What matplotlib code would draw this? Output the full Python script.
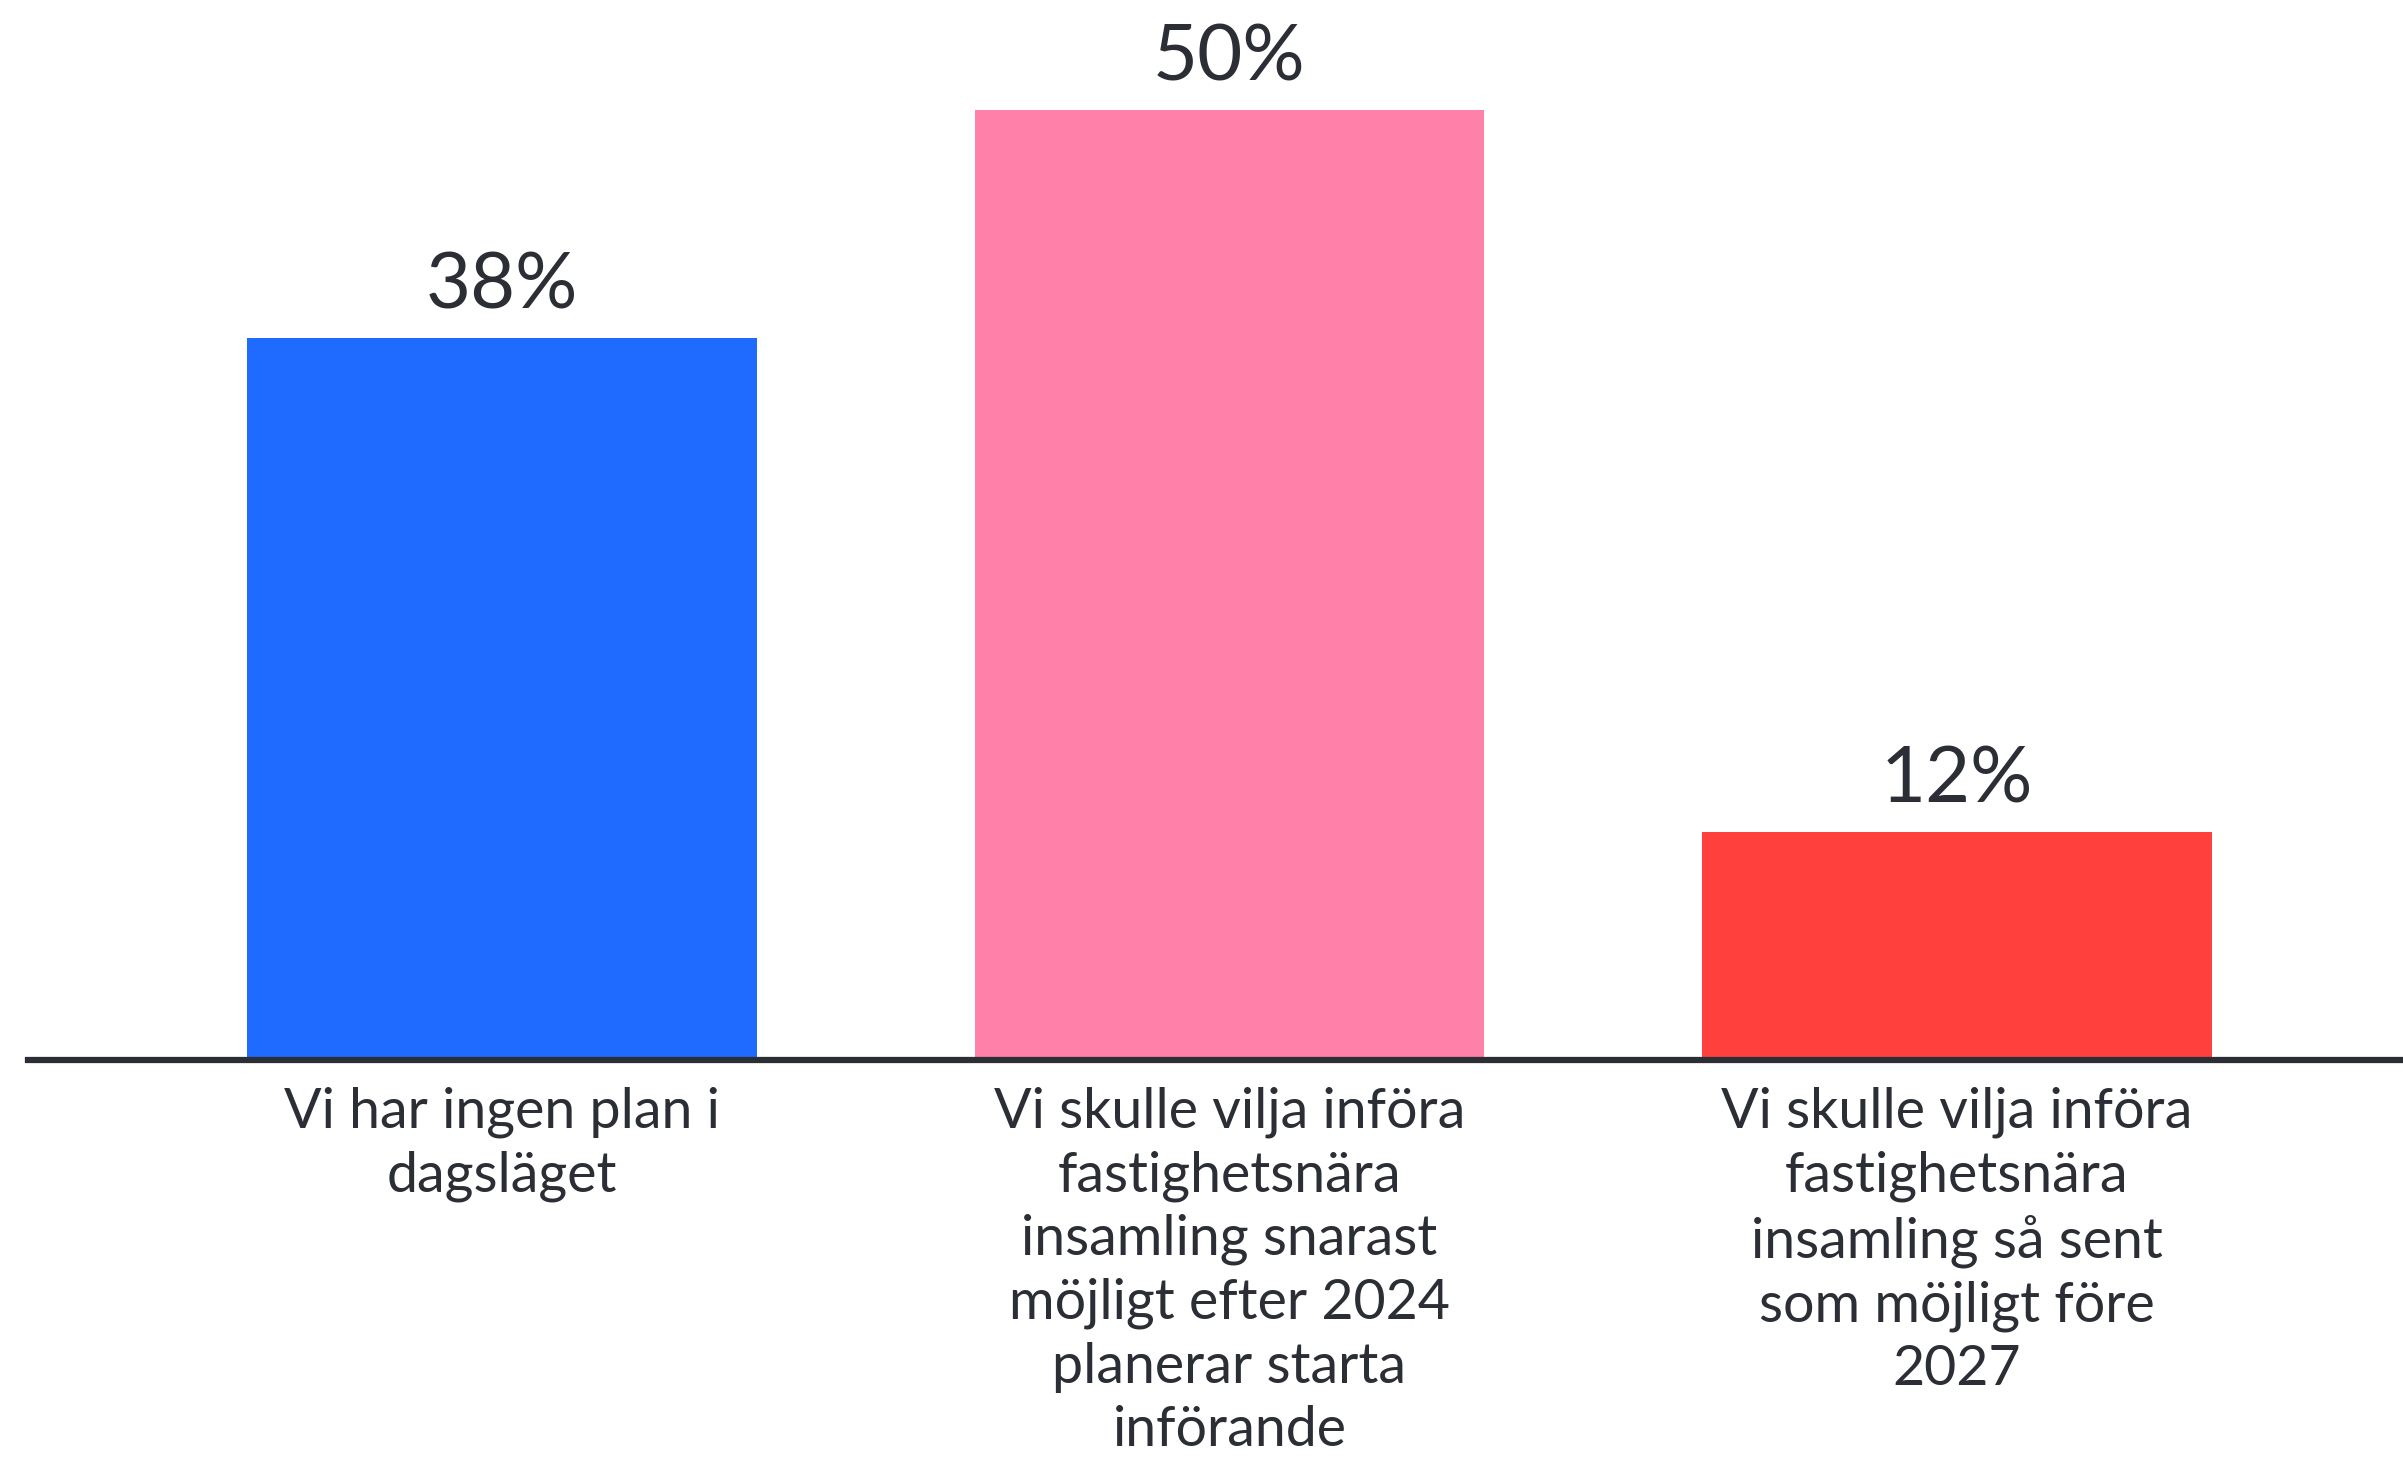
import matplotlib
matplotlib.use("Agg")
import matplotlib.pyplot as plt

# survey answers (Swedish) and share of respondents
categories = [
    "Vi har ingen plan i\ndagsläget",
    "Vi skulle vilja införa\nfastighetsnära\ninsamling snarast\nmöjligt efter 2024\nplanerar starta\ninförande",
    "Vi skulle vilja införa\nfastighetsnära\ninsamling så sent\nsom möjligt före\n2027",
]
shares = [38, 50, 12]
value_labels = ["38%", "50%", "12%"]
bar_colors = ["#1f6bff", "#ff80a8", "#ff403d"]
text_color = "#2b2e35"

plt.rcParams["font.family"] = ["Lato", "DejaVu Sans"]

W, H, DPI = 2403, 1457, 100
fig = plt.figure(figsize=(W / DPI, H / DPI), dpi=DPI)
fig.patch.set_facecolor("white")

base_px = 1060          # baseline from top
left_px = 28
ax = fig.add_axes([left_px / W, (H - base_px) / H, (W - left_px) / W, base_px / H])

x = list(range(len(categories)))
ax.bar(x, shares, width=0.7, color=bar_colors, zorder=2)

px_per_unit = 950 / 50
ax.set_ylim(0, base_px / px_per_unit)
ax.set_xlim(-(502 - left_px) / 727.5, 2 + (W - 1957) / 727.5)

for xi, v, lab in zip(x, shares, value_labels):
    ax.annotate(lab, (xi, v), xytext=(0, 11), textcoords="offset points",
                ha="center", va="bottom", fontsize=56, color=text_color)

ax.set_xticks(x)
ax.set_xticklabels(categories, fontsize=40, color=text_color, linespacing=1.3)
ax.tick_params(axis="x", length=0, pad=19)
ax.set_yticks([])

for s in ["top", "right", "left"]:
    ax.spines[s].set_visible(False)
ax.spines["bottom"].set_linewidth(4.5)
ax.spines["bottom"].set_color(text_color)
ax.spines["bottom"].set_zorder(3)

fig.savefig("out.png", dpi=DPI, facecolor="white")
